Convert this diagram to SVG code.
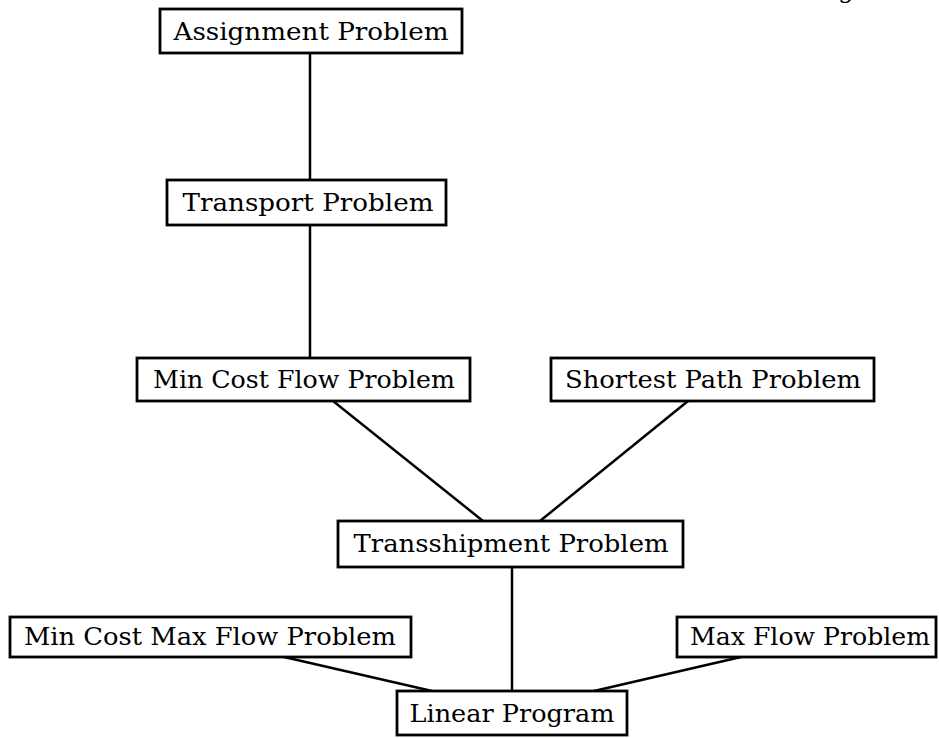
<svg xmlns="http://www.w3.org/2000/svg" width="939" height="738" viewBox="0 0 939 738">
<style>
.box{fill:#fff;stroke:#000;stroke-width:2.8}
.lbl{font-family:"DejaVu Serif","Liberation Serif",serif;font-size:25px;fill:#000;text-anchor:middle}
.edge{stroke:#000;stroke-width:2.5;fill:none}
</style>
<rect width="939" height="738" fill="#fff"/>
<text class="lbl" x="846" y="-2">g</text>
<g id="connectors">
<line class="edge" x1="310" y1="53" x2="310" y2="180"/>
<line class="edge" x1="310" y1="225" x2="310" y2="358"/>
<line class="edge" x1="333" y1="401" x2="483" y2="521"/>
<line class="edge" x1="688" y1="401" x2="540" y2="521"/>
<line class="edge" x1="512" y1="567" x2="512" y2="691"/>
<line class="edge" x1="284" y1="657" x2="432" y2="691"/>
<line class="edge" x1="741" y1="657" x2="594" y2="691"/>
</g>
<g id="assignment">
<rect class="box" x="160" y="9" width="302" height="44"/>
<text class="lbl" x="311" y="40" textLength="275" lengthAdjust="spacingAndGlyphs">Assignment Problem</text>
</g>
<g id="transport">
<rect class="box" x="167" y="180" width="279" height="45"/>
<text class="lbl" x="308" y="211" textLength="251" lengthAdjust="spacingAndGlyphs">Transport Problem</text>
</g>
<g id="mincostflow">
<rect class="box" x="137" y="358" width="333" height="43"/>
<text class="lbl" x="304" y="388" textLength="302" lengthAdjust="spacingAndGlyphs">Min Cost Flow Problem</text>
</g>
<g id="shortestpath">
<rect class="box" x="551" y="358" width="323" height="43"/>
<text class="lbl" x="713" y="388" textLength="296" lengthAdjust="spacingAndGlyphs">Shortest Path Problem</text>
</g>
<g id="transshipment">
<rect class="box" x="338" y="521" width="345" height="46"/>
<text class="lbl" x="511" y="552" textLength="315" lengthAdjust="spacingAndGlyphs">Transshipment Problem</text>
</g>
<g id="mincostmaxflow">
<rect class="box" x="10" y="617" width="401" height="40"/>
<text class="lbl" x="210" y="645" textLength="372" lengthAdjust="spacingAndGlyphs">Min Cost Max Flow Problem</text>
</g>
<g id="maxflow">
<rect class="box" x="677" y="617" width="259" height="40"/>
<text class="lbl" x="810" y="645" textLength="240" lengthAdjust="spacingAndGlyphs">Max Flow Problem</text>
</g>
<g id="linearprogram">
<rect class="box" x="397" y="691" width="230" height="44"/>
<text class="lbl" x="512" y="722" textLength="205" lengthAdjust="spacingAndGlyphs">Linear Program</text>
</g>
</svg>
